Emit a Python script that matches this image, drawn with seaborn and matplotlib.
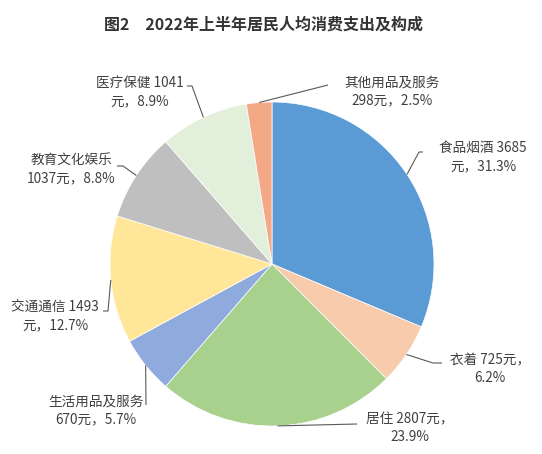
import matplotlib
matplotlib.use("Agg")
import matplotlib.pyplot as plt
import seaborn as sns
import numpy as np

# data
categories = ["食品烟酒", "衣着", "居住", "生活用品及服务",
              "交通通信", "教育文化娱乐", "医疗保健", "其他用品及服务"]
values = [3685, 725, 2807, 670, 1493, 1037, 1041, 298]
shares = [31.3, 6.2, 23.9, 5.7, 12.7, 8.8, 8.9, 2.5]
title = "图2　2022年上半年居民人均消费支出及构成"

colors = ["#5B9BD5", "#F8CBAD", "#A9D18E", "#8FAADC",
          "#FFE699", "#BFBFBF", "#E2EFDA", "#F4A986"]

# label layout (pixels from top-left of the figure)
W, H = 542, 454
pie_center = (272, 264)
pie_radius = 162
break_mode = ["num", "pct", "pct", "cat", "num", "cat", "num", "cat"]
text_pos = [(483, 157), (490, 369), (410, 428), (96, 410),
            (55, 316), (71, 169), (140, 92), (392, 91)]
leader_pts = [[(419, 152), (423, 152)],
              [(433, 363), (442, 363)],
              [(357, 424)],
              [(146, 405)],
              [(108, 311), (103, 311)],
              [(123, 166), (117, 166)],
              [(192, 86), (187, 86)],
              [(328, 85)]]


def make_label(cat, val, pct, mode):
    if mode == "num":
        return f"{cat} {val}\n元，{pct}%"
    if mode == "pct":
        return f"{cat} {val}元，\n{pct}%"
    return f"{cat}\n{val}元，{pct}%"


sns.set_theme(style="white")
plt.rcParams["font.family"] = ["Noto Sans CJK SC", "DejaVu Sans"]

fig = plt.figure(figsize=(W / 100, H / 100), dpi=100)
ax = fig.add_axes([0, 0, 1, 1])

wedges, _ = ax.pie(values, colors=colors, startangle=90, counterclock=False,
                   center=(pie_center[0], H - pie_center[1]), radius=pie_radius,
                   wedgeprops=dict(edgecolor="white", linewidth=0.5))
ax.set_xlim(0, W)
ax.set_ylim(0, H)
ax.set_aspect("equal")
ax.axis("off")

for w, cat, val, pct, mode, tp, pts in zip(wedges, categories, values, shares,
                                            break_mode, text_pos, leader_pts):
    mid = np.deg2rad((w.theta1 + w.theta2) / 2)
    x0 = pie_center[0] + pie_radius * np.cos(mid)
    y0 = (H - pie_center[1]) + pie_radius * np.sin(mid)
    xs = [x0] + [p[0] for p in pts]
    ys = [y0] + [H - p[1] for p in pts]
    ax.plot(xs, ys, color="#595959", lw=0.8, solid_capstyle="butt")
    ax.text(tp[0], H - tp[1], make_label(cat, val, pct, mode), ha="center",
            va="center", multialignment="center", fontsize=9.8,
            color="#404040", linespacing=1.35)

fig.text(263 / W, 1 - 25 / H, title, ha="center", va="center",
         fontsize=11.5, fontweight="bold", color="#333333")

fig.savefig("out.png", dpi=100)
